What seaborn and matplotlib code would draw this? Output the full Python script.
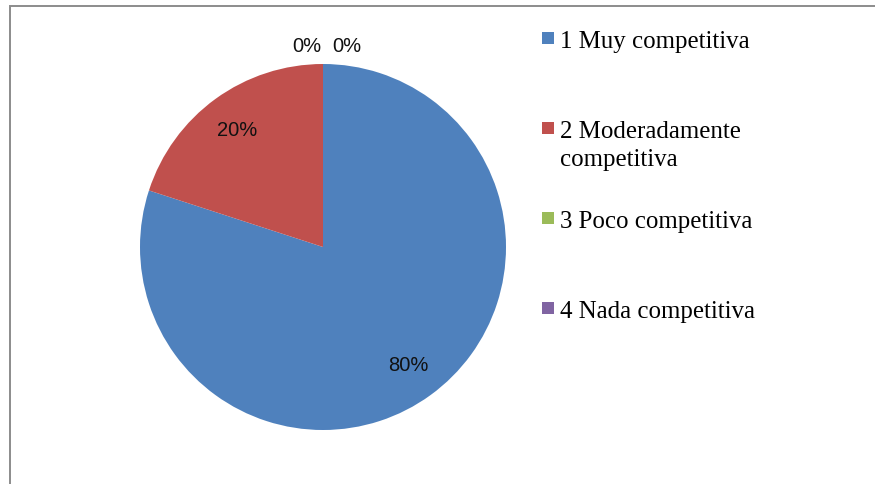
import matplotlib
matplotlib.use("Agg")
import matplotlib.pyplot as plt
import seaborn as sns
import numpy as np
from matplotlib.patches import Rectangle

categories = ["1 Muy competitiva", "2 Moderadamente\ncompetitiva",
              "3 Poco competitiva", "4 Nada competitiva"]
values = [80, 20, 0, 0]
pct_labels = ["80%", "20%", "0%", "0%"]
colors_hex = ["#4F81BD", "#C0504D", "#9BBB59", "#8064A2"]

sns.set_theme(style="white")
palette = sns.color_palette(colors_hex)

W, H = 875, 485
fig = plt.figure(figsize=(W / 100, H / 100), dpi=100)
fig.patch.set_facecolor("white")

# outer frame
fig.patches.append(Rectangle((10 / W, -0.05), 1.2, (H - 6.5) / H + 0.05,
                             transform=fig.transFigure, fill=False,
                             edgecolor="#8c8c8c", linewidth=1.4))

cx, cy, r = 323, 248, 183
ax = fig.add_axes([(cx - r) / W, (H - cy - r) / H, 2 * r / W, 2 * r / H])
wedges, _ = ax.pie(values, colors=palette, startangle=90, counterclock=False,
                   radius=1.0, wedgeprops=dict(linewidth=0))
ax.set_xlim(-1, 1)
ax.set_ylim(-1, 1)
ax.set_aspect("equal")
ax.axis("off")

# data labels
total = sum(values)
angle = 90.0
zero_offsets = [-0.09, 0.13]
zi = 0
for v, lab in zip(values, pct_labels):
    span = 360.0 * v / total
    if v > 0:
        mid = np.deg2rad(angle - span / 2)
        x, y = 0.795 * np.cos(mid), 0.795 * np.sin(mid)
    else:
        x, y = zero_offsets[zi], 1.10
        zi += 1
    ax.text(x, y, lab, ha="center", va="center", fontsize=14.5,
            family=["Liberation Sans", "DejaVu Sans"], color="#111111",
            clip_on=False)
    angle -= span

# legend
baselines = [48, 138, 228, 318]
line_gap = 28
for col, lab, yb in zip(palette, categories, baselines):
    fig.patches.append(Rectangle((542 / W, (H - yb + 3) / H), 12 / W, 12 / H,
                                 transform=fig.transFigure, facecolor=col,
                                 edgecolor="none"))
    for k, line in enumerate(lab.split("\n")):
        fig.text(560 / W, (H - yb - k * line_gap) / H, line, ha="left",
                 va="baseline", fontsize=17.9,
                 family=["Liberation Serif", "DejaVu Serif"], color="black")

fig.savefig("out.png", dpi=100)
